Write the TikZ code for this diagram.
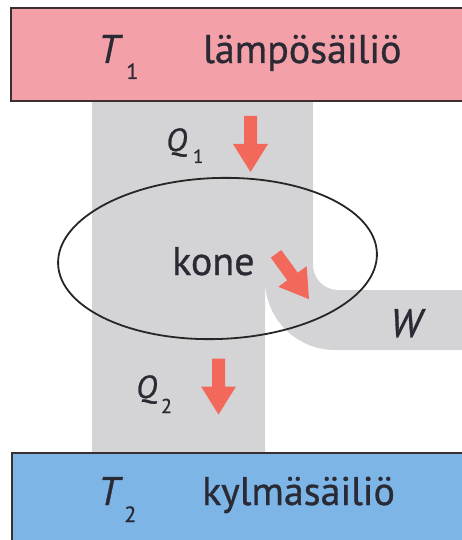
\documentclass[tikz,border=0pt]{standalone}
\usepackage{fontspec}
\setmainfont{PT Sans}[FakeBold=0.8]
\usetikzlibrary{shapes.geometric}

\definecolor{hotfill}{HTML}{F4A0A8}
\definecolor{coldfill}{HTML}{7DB6E6}
\definecolor{pipegray}{HTML}{D4D4D6}
\definecolor{flowred}{HTML}{F2685A}
\definecolor{ink}{HTML}{2A2A34}
\definecolor{rim}{HTML}{3C2F30}

\begin{document}
\begin{tikzpicture}[x=1pt,y=-1pt,
  lbl/.style={anchor=base west, inner sep=0pt, text=ink,
              font=\fontsize{40}{40}\selectfont},
  qlbl/.style={lbl, font=\fontsize{32}{32}\selectfont},
  rimline/.style={draw=rim, line width=2pt},
  heat/.pic={\fill[flowred] (-6.5,-28) -- (6.5,-28) -- (6.5,0) -- (17.5,0)
                 -- (0,28) -- (-17.5,0) -- (-6.5,0) -- cycle;}
]
\useasboundingbox (0,0) rectangle (462,540);

% heat flow band: wide channel from the hot reservoir, splitting into
% a branch down to the cold reservoir and a bend out to the right (work)
\fill[pipegray] (92,95) -- (313,95) -- (313,265)
  arc[start angle=180, end angle=90, radius=25] -- (470,290) -- (470,350)
  -- (335,350) arc[start angle=90, end angle=180, radius=70]
  -- (265,460) -- (92,460) -- cycle;

% reservoirs
\fill[hotfill] (11,8) rectangle (470,101);
\draw[rimline] (470,8) -- (11,8) -- (11,101) -- (470,101);
\fill[coldfill] (12,453) rectangle (470,550);
\draw[rimline] (470,453) -- (12,453) -- (12,550);

% the engine
\node[draw=black!85, line width=1.8pt, ellipse, inner sep=0pt,
      minimum width=319pt, minimum height=161pt, rotate=2]
  (engine) at (217.5,258.5) {};

% flow arrows
\pic at (250.5,144) {heat};
\pic[rotate=36] at (292.5,276.5) {heat};
\pic at (218.5,386.5) {heat};

% labels
\node[lbl] (t1) at (98,63)
  {\itshape T\kern7pt\raisebox{-16pt}{\fontsize{22}{22}\selectfont\upshape 1}};
\node[lbl] (hot) at (203,63) {lämpösäiliö};
\node[qlbl] (q1) at (166,151)
  {\itshape Q\kern6pt\raisebox{-12pt}{\fontsize{19}{19}\selectfont\upshape 1}};
\node[lbl] (kone) at (172,275) {kone};
\node[lbl] (w) at (390,337) {\itshape W};
\node[qlbl] (q2) at (136,398)
  {\itshape Q\kern4pt\raisebox{-15pt}{\fontsize{20}{20}\selectfont\upshape 2}};
\node[lbl] (t2) at (98,505)
  {\itshape T\kern5pt\raisebox{-17pt}{\fontsize{22}{22}\selectfont\upshape 2}};
\node[lbl] (cold) at (202,505) {kylmäsäiliö};
\end{tikzpicture}
\end{document}
